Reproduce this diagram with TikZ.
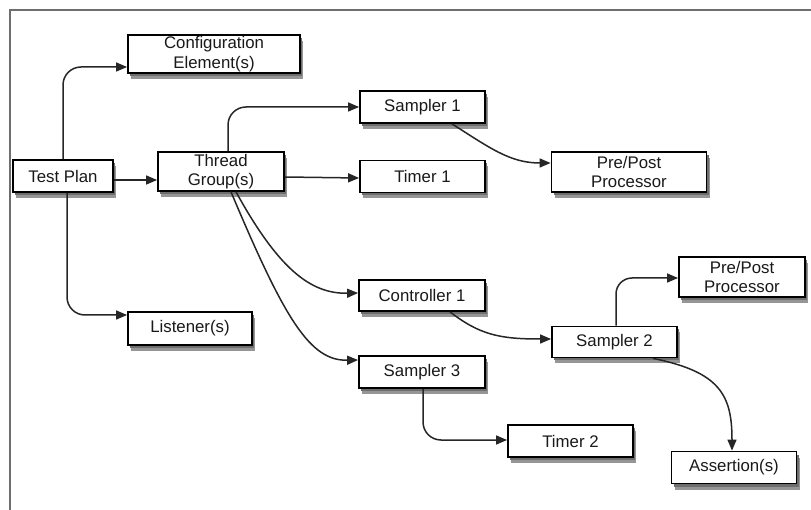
\documentclass[tikz,border=0pt]{standalone}
\usepackage{fontspec}
\setmainfont{Liberation Sans}
\usetikzlibrary{arrows.meta,shadows}
\definecolor{framegray}{RGB}{110,110,110}
\definecolor{txt}{RGB}{25,25,25}
\definecolor{shade1}{RGB}{150,150,150}
\definecolor{shade2}{RGB}{110,110,110}
\begin{document}
\begin{tikzpicture}[x=1pt,y=-1pt,
  box/.style={draw=black, line width=1.8pt, fill=white, text=txt,
    inner sep=0pt, align=center, font=\fontsize{16.8}{19.5}\selectfont,
    general shadow={shadow xshift=3pt, shadow yshift=-6pt, fill=shade1},
    general shadow={shadow xshift=2pt, shadow yshift=-3pt, fill=shade2}},
  conn/.style={draw=black!85, line width=1.5pt, -{Triangle[length=11pt,width=9pt]}},
]
\useasboundingbox (0,0) rectangle (811,510);
\draw[framegray, line width=2.2pt] (10,510) -- (10,10) -- (811,10);

\node[box, minimum width=172pt, minimum height=38pt] (cfg) at (214,54) {Configuration\\Element(s)};
\node[box, minimum width=100pt, minimum height=32pt] (tp) at (63,176) {Test Plan};
\node[box, minimum width=126pt, minimum height=39pt] (tg) at (221,171.5) {Thread\\Group(s)};
\node[box, minimum width=125pt, minimum height=32pt] (s1) at (422.5,107) {Sampler 1};
\node[box, minimum width=125pt, minimum height=32pt] (t1) at (422.5,176.5) {Timer 1};
\node[box, minimum width=155pt, minimum height=40pt] (pp1) at (629,172) {Pre/Post\\Processor};
\node[box, minimum width=124pt, minimum height=33pt] (lis) at (190,328.5) {Listener(s)};
\node[box, minimum width=126pt, minimum height=31pt] (c1) at (422,295.5) {Controller 1};
\node[box, minimum width=126pt, minimum height=32pt] (s3) at (422,372) {Sampler 3};
\node[box, minimum width=125pt, minimum height=31pt] (s2) at (614.5,342) {Sampler 2};
\node[box, minimum width=126pt, minimum height=40pt] (pp2) at (742,277) {Pre/Post\\Processor};
\node[box, minimum width=125pt, minimum height=32pt] (t2) at (570.5,441) {Timer 2};
\node[box, minimum width=125pt, minimum height=32pt] (as) at (734,467.5) {Assertion(s)};

% Test Plan connectors
\draw[conn, rounded corners=18pt] (tp.north) |- (cfg.west |- 0,67);
\draw[conn] (tp.east |- 0,180) -- (tg.west |- 0,180);
\draw[conn, rounded corners=18pt] (tp.south -| 67,0) |- (lis.west |- 0,315);

% Thread Group connectors
\draw[conn, rounded corners=18pt] (tg.north -| 228,0) |- (s1.west);
\draw[conn] (tg.east |- 0,177) -- (t1.west |- 0,178);
\draw[conn] (tg.south -| 236,0) .. controls (278,268) and (310,294) .. (c1.west |- 0,293);
\draw[conn] (tg.south -| 231,0) .. controls (285,320) and (310,361) .. (s3.west |- 0,360);

% Sampler 1
\draw[conn] (s1.south -| 452,0) .. controls (490,148) and (510,163) .. (pp1.west |- 0,163);
% Controller 1
\draw[conn] (c1.south -| 450,0) .. controls (480,335) and (500,339) .. (s2.west |- 0,339);
% Sampler 2
\draw[conn, rounded corners=16pt] (s2.north -| 616,0) |- (pp2.west |- 0,278);
\draw[conn] (s2.south -| 653,0) .. controls (720,372) and (732,395) .. (as.north -| 732,0);
% Sampler 3
\draw[conn, rounded corners=18pt] (s3.south -| 423,0) |- (t2.west |- 0,440);
\end{tikzpicture}
\end{document}
